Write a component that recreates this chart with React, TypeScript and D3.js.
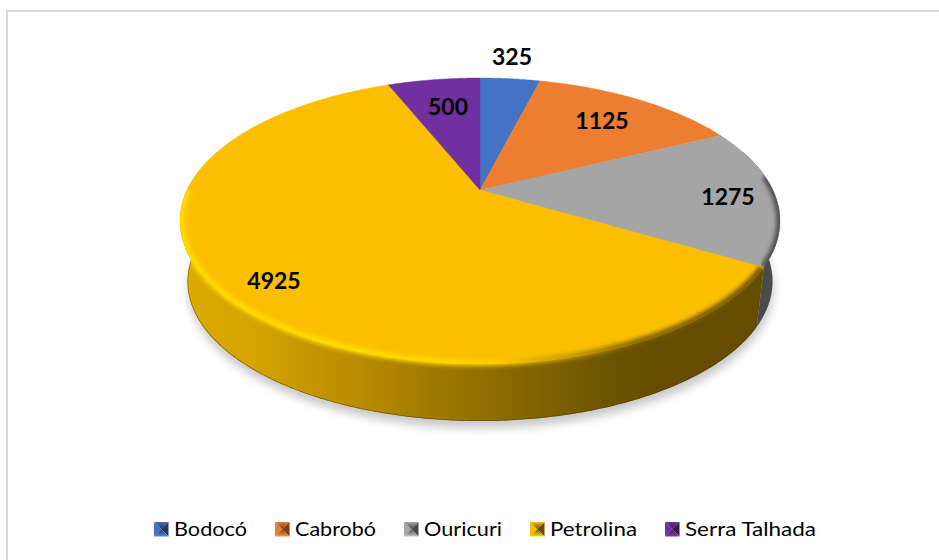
import React from 'react';
import * as d3 from 'd3';

const categories = ['Bodocó', 'Cabrobó', 'Ouricuri', 'Petrolina', 'Serra Talhada'];
const values = [325, 1125, 1275, 4925, 500];
const colors = ['#4472C4', '#ED7D31', '#A5A5A5', '#FCBF00', '#70309F'];
const darkColors = ['#22395F', '#773E18', '#4A4A4A', '#654C00', '#381850'];

// layout, kept apart from the data
const WIDTH = 939;
const HEIGHT = 560;
const labelPos = [[512, 65], [602, 129], [728, 205], [274, 289], [448, 115]];
const legendX = [154, 275, 404, 530, 665];
const legendW = [73, 81, 78, 87, 131];

// perspective of the tilted disc: back edge is squeezed, front edge stretched
const cx = 480;
const apexY = 190;
const persp = -0.2168;
const depthY = 95.09;
const spread = 292.9;
const lowScale = 0.975;
const lowApexY = 251.35;

const project = (a: number, r = 1, low = false) => {
  const u = Math.sin(a) * r;
  const v = -Math.cos(a) * r;
  const w = 1 + persp * v;
  const s = low ? lowScale : 1;
  const y0 = low ? lowApexY : apexY;
  return [cx + (s * spread * u) / w, y0 + s * ((apexY + depthY * v) / w - apexY)] as [number, number];
};

const angles = (a0: number, a1: number) => {
  const n = Math.max(2, Math.ceil(Math.abs(a1 - a0) / 0.01));
  return d3.range(n + 1).map((i) => a0 + ((a1 - a0) * i) / n);
};

const line = d3.line();
const arcPts = (a0: number, a1: number, r = 1, low = false) => angles(a0, a1).map((a) => project(a, r, low));
const facePath = (a0: number, a1: number) => line([[cx, apexY], ...arcPts(a0, a1)]) + 'Z';
const wallPath = (a0: number, a1: number) => line([...arcPts(a0, a1), ...arcPts(a1, a0, 1, true)]) + 'Z';

const arcs = d3.pie<number>().sort(null).startAngle(0).endAngle(2 * Math.PI)(values);
const petrolina = arcs[3];
const ouricuri = arcs[2];
const rimEnd = (3 * Math.PI) / 2;
const grayStart = Math.PI / 2 - 0.1;

const goldStops: [number, string][] = [
  [0, '#DDAB00'], [0.12, '#D6A300'], [0.3, '#B88B00'], [0.5, '#917000'], [0.7, '#6F5500'], [0.8, '#654C00'], [1, '#654C00'],
];
const rimStops: [number, string][] = [
  [0, '#FFDD00'], [0.3, '#FFE000'], [0.52, '#FFD000'], [0.64, '#C89A00'], [0.76, '#7F6000'], [1, '#654C00'],
];

function Swatch({ x, i }: { x: number; i: number }) {
  const s = 14.5;
  const y = 522;
  const mx = x + s / 2;
  const my = y + s / 2;
  const tl = `${x},${y}`;
  const tr = `${x + s},${y}`;
  const br = `${x + s},${y + s}`;
  const bl = `${x},${y + s}`;
  const m = `${mx},${my}`;
  return (
    <g>
      <polygon points={`${tl} ${bl} ${m}`} fill={colors[i]} />
      <polygon points={`${tr} ${br} ${m}`} fill={darkColors[i]} />
      <polygon points={`${tl} ${tr} ${m}`} fill={`url(#swTop${i})`} />
      <polygon points={`${bl} ${br} ${m}`} fill={`url(#swBot${i})`} />
    </g>
  );
}

export default function App() {
  return (
    <svg width={WIDTH} height={HEIGHT} style={{ position: 'absolute', left: 0, top: 0, background: '#fff' }}>
      <defs>
        <filter id="shadowBlur" x="-10%" y="-10%" width="120%" height="120%">
          <feGaussianBlur stdDeviation="5" />
        </filter>
        <filter id="rimBlur" x="-10%" y="-10%" width="120%" height="120%">
          <feGaussianBlur stdDeviation="2" />
        </filter>
        <linearGradient id="wallGold" gradientUnits="userSpaceOnUse" x1={180} x2={780} y1={0} y2={0}>
          {goldStops.map(([o, c]) => <stop key={o} offset={o} stopColor={c} />)}
        </linearGradient>
        <linearGradient id="rimGold" gradientUnits="userSpaceOnUse" x1={180} x2={780} y1={0} y2={0}>
          {rimStops.map(([o, c]) => <stop key={o} offset={o} stopColor={c} />)}
        </linearGradient>
        <clipPath id="clipGold">
          <path d={facePath(petrolina.startAngle, petrolina.endAngle)} />
          <path d={wallPath(petrolina.startAngle, rimEnd + 0.3)} />
        </clipPath>
        <clipPath id="clipGray">
          <path d={facePath(ouricuri.startAngle, ouricuri.endAngle)} />
          <path d={wallPath(grayStart - 0.2, ouricuri.endAngle)} />
        </clipPath>
        {colors.map((c, i) => (
          <React.Fragment key={c}>
            <linearGradient id={`swTop${i}`} x1="0" x2="0" y1="0" y2="1">
              <stop offset="0" stopColor={c} />
              <stop offset="1" stopColor={darkColors[i]} />
            </linearGradient>
            <linearGradient id={`swBot${i}`} x1="0" x2="0" y1="0" y2="1">
              <stop offset="0" stopColor={darkColors[i]} />
              <stop offset="1" stopColor={d3.color(c)!.brighter(0.5).formatHex()} />
            </linearGradient>
          </React.Fragment>
        ))}
      </defs>

      {/* chart frame, only top and left fall inside the picture */}
      <line x1={7} y1={11} x2={WIDTH} y2={11} stroke="#D9D9D9" strokeWidth={2} />
      <line x1={7} y1={10} x2={7} y2={HEIGHT} stroke="#D9D9D9" strokeWidth={2} />

      {/* soft shadow under the disc */}
      <path
        d={line(arcPts(0, 2 * Math.PI, 1, true).map(([x, y]) => [x + 1, y + 7] as [number, number])) + 'Z'}
        fill="#000"
        opacity={0.22}
        filter="url(#shadowBlur)"
      />

      {/* side walls */}
      <path d={wallPath(grayStart - 0.2, ouricuri.endAngle)} fill="#4A4A4A" />
      <path d={wallPath(petrolina.startAngle, rimEnd + 0.3)} fill="url(#wallGold)" />
      <g clipPath="url(#clipGold)">
        <path
          d={line(arcPts(petrolina.startAngle, rimEnd + 0.3, 1, true))!}
          fill="none"
          stroke="#4A3800"
          strokeWidth={1.5}
          opacity={0.6}
        />
      </g>

      {/* top faces */}
      {arcs.map((d, i) => (
        <path
          key={categories[i]}
          d={facePath(d.startAngle, d.endAngle)}
          fill={colors[i]}
          stroke={colors[i]}
          strokeWidth={0.4}
        />
      ))}

      {/* bevel along the front rim */}
      <g clipPath="url(#clipGold)">
        <path
          d={line(arcPts(petrolina.startAngle, rimEnd, 0.995))!}
          fill="none"
          stroke="url(#rimGold)"
          strokeWidth={6}
          filter="url(#rimBlur)"
        />
      </g>
      <g clipPath="url(#clipGray)">
        <path
          d={line(arcPts(grayStart, ouricuri.endAngle, 0.998))!}
          fill="none"
          stroke="#4A4A4A"
          strokeWidth={6}
          filter="url(#rimBlur)"
        />
      </g>

      {/* value labels */}
      {values.map((v, i) => (
        <text
          key={categories[i]}
          x={labelPos[i][0]}
          y={labelPos[i][1]}
          textAnchor="middle"
          fontFamily="Lato, 'Open Sans', sans-serif"
          fontWeight={700}
          fontSize={23}
          fill="#000"
        >
          {v}
        </text>
      ))}

      {/* legend */}
      {categories.map((c, i) => (
        <g key={c}>
          <Swatch x={legendX[i]} i={i} />
          <text
            x={legendX[i] + 20}
            y={536}
            fontFamily="Lato, 'Open Sans', sans-serif"
            fontSize={20}
            fill="#000"
            textLength={legendW[i]}
            lengthAdjust="spacingAndGlyphs"
          >
            {c}
          </text>
        </g>
      ))}
    </svg>
  );
}
